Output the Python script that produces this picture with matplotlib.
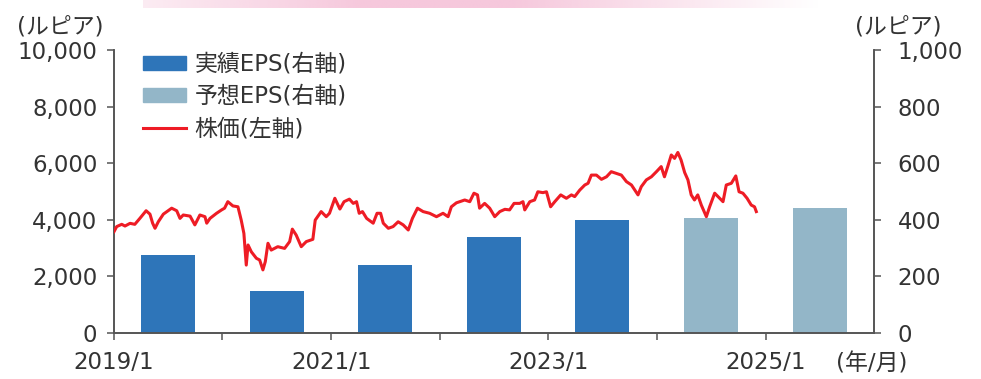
import numpy as np
import pandas as pd
import matplotlib
matplotlib.use('Agg')
import matplotlib.pyplot as plt
import matplotlib.dates as mdates
from matplotlib.patches import Patch
from matplotlib.lines import Line2D
from matplotlib.ticker import FuncFormatter

plt.rcParams['font.family'] = ['DejaVu Sans', 'Noto Sans CJK JP']

# EPS (right axis, rupiah), bars centred on mid-year
eps_years = [2019, 2020, 2021, 2022, 2023, 2024, 2025]
eps_values = [275, 148, 240, 339, 399, 405, 442]
eps_forecast = [False, False, False, False, False, True, True]

# share price (left axis, rupiah)
price_dates = [
    '2019-01-01', '2019-01-10', '2019-01-27', '2019-02-07', '2019-02-24', '2019-03-12',
    '2019-03-29', '2019-04-19', '2019-05-02', '2019-05-11', '2019-05-19', '2019-05-30',
    '2019-06-16', '2019-07-14', '2019-07-31', '2019-08-11', '2019-08-22', '2019-09-14',
    '2019-09-30', '2019-10-17', '2019-11-03', '2019-11-09', '2019-11-20', '2019-12-12',
    '2019-12-29', '2020-01-08', '2020-01-19', '2020-02-05', '2020-02-22', '2020-03-04',
    '2020-03-13', '2020-03-21', '2020-03-27', '2020-04-07', '2020-04-24', '2020-05-05',
    '2020-05-16', '2020-05-24', '2020-06-02', '2020-06-13', '2020-07-05', '2020-07-28',
    '2020-08-14', '2020-08-23', '2020-09-05', '2020-09-22', '2020-10-09', '2020-10-31',
    '2020-11-08', '2020-11-28', '2020-12-15', '2020-12-26', '2021-01-13', '2021-01-30',
    '2021-02-13', '2021-03-03', '2021-03-16', '2021-03-27', '2021-04-05', '2021-04-16',
    '2021-04-30', '2021-05-22', '2021-06-04', '2021-06-16', '2021-06-25', '2021-07-12',
    '2021-07-28', '2021-08-14', '2021-08-31', '2021-09-17', '2021-10-01', '2021-10-18',
    '2021-11-06', '2021-11-28', '2021-12-21', '2022-01-12', '2022-01-29', '2022-02-09',
    '2022-02-26', '2022-03-09', '2022-03-26', '2022-04-12', '2022-04-26', '2022-05-08',
    '2022-05-15', '2022-06-01', '2022-06-18', '2022-07-05', '2022-07-22', '2022-08-08',
    '2022-08-24', '2022-09-08', '2022-09-27', '2022-10-08', '2022-10-14', '2022-10-31',
    '2022-11-16', '2022-11-27', '2022-12-14', '2022-12-26', '2023-01-09', '2023-01-23',
    '2023-02-12', '2023-03-03', '2023-03-20', '2023-03-31', '2023-04-17', '2023-05-04',
    '2023-05-15', '2023-05-26', '2023-06-12', '2023-06-29', '2023-07-16', '2023-08-01',
    '2023-08-18', '2023-09-04', '2023-09-21', '2023-10-08', '2023-10-30', '2023-11-10',
    '2023-11-27', '2023-12-14', '2023-12-31', '2024-01-16', '2024-01-27', '2024-02-07',
    '2024-02-19', '2024-03-01', '2024-03-12', '2024-03-23', '2024-04-04', '2024-04-15',
    '2024-04-26', '2024-05-07', '2024-05-18', '2024-05-30', '2024-06-16', '2024-06-27',
    '2024-07-14', '2024-07-31', '2024-08-11', '2024-08-22', '2024-09-08', '2024-09-23',
    '2024-10-04', '2024-10-17', '2024-10-31', '2024-11-14', '2024-11-25', '2024-12-01',
]
price_values = [
    3580, 3760, 3840, 3780, 3875, 3840,
    4050, 4320, 4200, 3880, 3700, 3930,
    4200, 4410, 4320, 4050, 4170, 4130,
    3820, 4170, 4110, 3880, 4050, 4230,
    4350, 4410, 4640, 4490, 4460, 3990,
    3520, 2400, 3110, 2870, 2640, 2580,
    2230, 2520, 3170, 2930, 3050, 2990,
    3230, 3670, 3460, 3050, 3230, 3310,
    3990, 4290, 4110, 4230, 4760, 4380,
    4640, 4730, 4580, 4640, 4230, 4290,
    4050, 3880, 4230, 4230, 3880, 3700,
    3760, 3930, 3820, 3640, 4050, 4410,
    4290, 4230, 4110, 4230, 4110, 4460,
    4600, 4640, 4700, 4640, 4940, 4880,
    4410, 4580, 4410, 4110, 4290, 4370,
    4350, 4580, 4580, 4640, 4350, 4640,
    4700, 4990, 4960, 4990, 4460, 4640,
    4880, 4760, 4880, 4820, 5050, 5230,
    5290, 5580, 5580, 5430, 5520, 5700,
    5640, 5580, 5350, 5230, 4880, 5170,
    5410, 5520, 5700, 5880, 5520, 5880,
    6290, 6170, 6380, 6110, 5670, 5410,
    4880, 4700, 4880, 4520, 4110, 4460,
    4940, 4760, 4640, 5230, 5290, 5550,
    4990, 4940, 4760, 4520, 4460, 4290,
]

xtick_years = [2019, 2020, 2021, 2022, 2023, 2024, 2025]
xtick_labels = ['2019/1', '', '2021/1', '', '2023/1', '', '2025/1']

ACTUAL = '#2E75B9'
FORECAST = '#93B6C8'
RED = '#EE1C25'
TXT = '#333333'
SPINE = '#555555'
FS = 16.5

fig = plt.figure(figsize=(9.81, 3.79), dpi=100)
ax = fig.add_axes([114 / 981, 1 - 333 / 379, 760 / 981, 283 / 379])
ax2 = ax.twinx()

# EPS bars on the right axis
bar_x = [mdates.date2num(pd.Timestamp(f'{y}-07-02')) for y in eps_years]
bar_c = [FORECAST if f else ACTUAL for f in eps_forecast]
ax2.bar(bar_x, eps_values, width=182, color=bar_c, zorder=2)
ax2.set_ylim(0, 1000)
ax2.set_yticks(np.arange(0, 1001, 200))
ax2.yaxis.set_major_formatter(FuncFormatter(lambda v, p: f'{int(v):,}'))

# price line on the left axis, drawn above the bars
ax.set_zorder(ax2.get_zorder() + 1)
ax.patch.set_visible(False)
ax.plot(pd.to_datetime(price_dates), price_values, color=RED, lw=2.2, zorder=3)
ax.set_ylim(0, 10000)
ax.set_yticks(np.arange(0, 10001, 2000))
ax.yaxis.set_major_formatter(FuncFormatter(lambda v, p: f'{int(v):,}'))

ax.set_xlim(pd.Timestamp('2019-01-01'), pd.Timestamp('2026-01-01'))
ax.set_xticks([pd.Timestamp(f'{y}-01-01') for y in xtick_years])
ax.set_xticklabels(xtick_labels)

for a in (ax, ax2):
    a.spines['top'].set_visible(False)
    for s in ('left', 'right', 'bottom'):
        a.spines[s].set_color(SPINE)
        a.spines[s].set_linewidth(1.2)
    a.tick_params(colors=SPINE, labelcolor=TXT, labelsize=FS, length=5, width=1.1)
ax.tick_params(axis='y', pad=7)
ax.tick_params(axis='x', pad=8)
ax2.tick_params(axis='y', pad=12)

fig.text(60 / 981, 1 - 27 / 379, '(ルピア)', fontsize=FS, color=TXT, ha='center', va='center')
fig.text(898 / 981, 1 - 27 / 379, '(ルピア)', fontsize=FS, color=TXT, ha='center', va='center')
fig.text(872 / 981, 1 - 364 / 379, '(年/月)', fontsize=FS, color=TXT, ha='center', va='center')

handles = [Patch(color=ACTUAL), Patch(color=FORECAST), Line2D([], [], color=RED, lw=2.2)]
labels = ['実績EPS(右軸)', '予想EPS(右軸)', '株価(左軸)']
leg = ax.legend(handles, labels, loc='upper left', bbox_to_anchor=(0.038, 0.99),
                frameon=False, fontsize=FS, handlelength=1.9, handleheight=0.55,
                handletextpad=0.35, labelspacing=0.4, borderpad=0, borderaxespad=0)
for t in leg.get_texts():
    t.set_color(TXT)

# pink gradient strip at the very top
band = fig.add_axes([143 / 981, 1 - 8 / 379, 677 / 981, 8 / 379])
grad = np.linspace(0, 1, 300)
alpha = np.clip(np.minimum(0.35 + grad * 2.0, (1 - grad) * 2.2), 0, 1)
img = np.ones((1, 300, 4))
img[0, :, 0] = 246 / 255
img[0, :, 1] = 200 / 255
img[0, :, 2] = 220 / 255
img[0, :, 3] = alpha
band.imshow(img, aspect='auto')
band.set_axis_off()

fig.savefig('out.png', dpi=100)
